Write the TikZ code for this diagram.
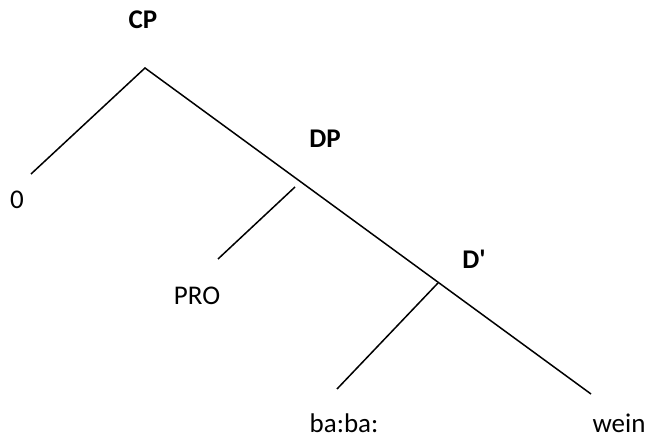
\documentclass[tikz,border=0pt]{standalone}
\usepackage{fontspec}
\setmainfont{Carlito}
\begin{document}
\begin{tikzpicture}[x=1pt,y=-1pt,
  lbl/.style={anchor=base,inner sep=0pt,text depth=0pt,font=\fontsize{27}{30}\selectfont},
  cat/.style={lbl,font=\fontsize{27}{30}\selectfont\bfseries},
  branch/.style={line width=1.5pt}]
\useasboundingbox (0,0) rectangle (649,438);
% labels
\node[cat] (cp) at (143,29) {CP};
\node[lbl] (zero) at (17,209) {0};
\node[cat] (dp) at (325,148) {DP};
\node[lbl] (pro) at (197,305) {PRO};
\node[cat] (dbar) at (474,269) {D\textquotesingle};
\node[lbl] (baba) at (344,433) {ba:ba:};
\node[lbl] (wein) at (619,433) {wein};
% tree points
\coordinate (top) at (145,68);
\coordinate (leftend) at (31,174);
\coordinate (mainend) at (591,394);
\coordinate (dpstart) at (295,187);
\coordinate (dpend) at (218,259);
\coordinate (dbarj) at (438,283);
\coordinate (babaend) at (337,389);
% branches
\draw[branch] (leftend) -- (top) -- (mainend);
\draw[branch] (dpstart) -- (dpend);
\draw[branch] (dbarj) -- (babaend);
\end{tikzpicture}
\end{document}
